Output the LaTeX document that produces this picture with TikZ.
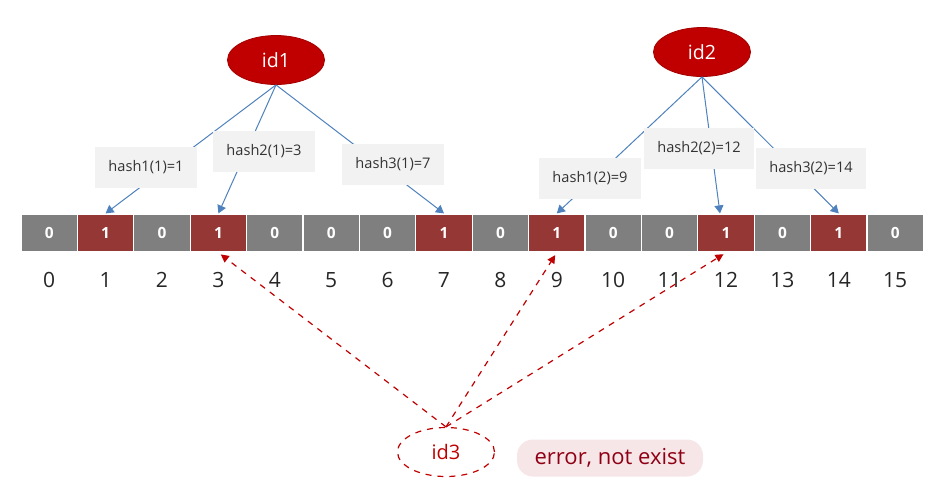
\documentclass[tikz,border=0pt]{standalone}
\usepackage{fontspec}
\setmainfont{Open Sans}
\usetikzlibrary{arrows.meta,positioning,shapes.geometric}
\definecolor{bfred}{HTML}{C00000}
\definecolor{bfcell}{HTML}{953735}
\definecolor{bfgray}{HTML}{7F7F7F}
\definecolor{bfblue}{HTML}{4F81BD}
\definecolor{bfbox}{HTML}{F2F2F2}
\definecolor{bfpink}{HTML}{F6E6E8}
\definecolor{bfdark}{HTML}{900014}

\begin{document}
\begin{tikzpicture}[x=0.5pt,y=-0.5pt,
  bit/.style={draw=white,line width=0.6pt,minimum width=28.2pt,minimum height=19pt,
    inner sep=0pt,text=white,font=\fontsize{7.7}{9}\selectfont\bfseries},
  bit0/.style={fill=bfgray},
  bit1/.style={fill=bfcell},
  idx/.style={font=\fontsize{10.5}{12}\selectfont,text=black!85},
  key/.style={ellipse,fill=bfred,draw=bfred!85!black,minimum width=48.5pt,
    minimum height=24.5pt,inner sep=0pt,text=white,font=\fontsize{9.8}{11}\selectfont},
  ghost/.style={ellipse,draw=bfred,dashed,line width=0.6pt,minimum width=48.5pt,
    minimum height=24.5pt,inner sep=0pt,text=bfred,font=\fontsize{10}{12}\selectfont},
  hbox/.style={fill=bfbox,inner xsep=6.5pt,minimum height=20.5pt,inner ysep=0pt,
    font=\fontsize{7.3}{9}\selectfont,text=black!80},
  harr/.style={-{Triangle[length=4pt,width=4.5pt]},bfblue,line width=0.5pt},
  miss/.style={-{Triangle[length=4pt,width=4pt]},bfred,dashed,line width=0.6pt,
    shorten >=1.5pt}]
  \useasboundingbox (0,0) rectangle (944,484);
  % the bit array and its indices
  \foreach \b [count=\i from 0] in {0,1,0,1,0,0,0,1,0,1,0,0,1,0,1,0} {
    \node[bit,bit\b] (c\i) at ({49.2+56.4*\i},233) {\b};
    \node[idx] (n\i) at ({49.2+56.4*\i},280) {\i};
  }
  % keys
  \node[key] (id1) at (276,60) {id1};
  \node[key] (id2) at (702,52) {id2};
  \node[ghost] (id3) at (446,452) {id3};
  \node[fill=bfpink,rounded corners=8pt,minimum width=93pt,minimum height=18.5pt,
    text=bfdark,font=\fontsize{11}{13}\selectfont] (err) at (610,458) {error, not exist};
  \draw[harr] (id1.south) -- (c1.north);
  \draw[harr] (id1.south) -- (c3.north);
  \draw[harr] (id1.south) -- (c7.north);
  \draw[harr] (id2.south) -- (c9.north);
  \draw[harr] (id2.south) -- ([xshift=-3pt]c12.north);
  \draw[harr] (id2.south) -- (c14.north);
  % hash labels sit on top of the lines
  \node[hbox] (h11) at (146,167) {hash1(1)=1};
  \node[hbox] (h21) at (264,151) {hash2(1)=3};
  \node[hbox] (h31) at (393,164) {hash3(1)=7};
  \node[hbox] (h12) at (590,178) {hash1(2)=9};
  \node[hbox] (h22) at (699,148) {hash2(2)=12};
  \node[hbox] (h32) at (811,168) {hash3(2)=14};
  % lookup of id3
  \draw[miss] (id3.north) -- (c3.south);
  \draw[miss] (id3.north) -- (c9.south);
  \draw[miss] (id3.north) -- (c12.south);
\end{tikzpicture}
\end{document}
